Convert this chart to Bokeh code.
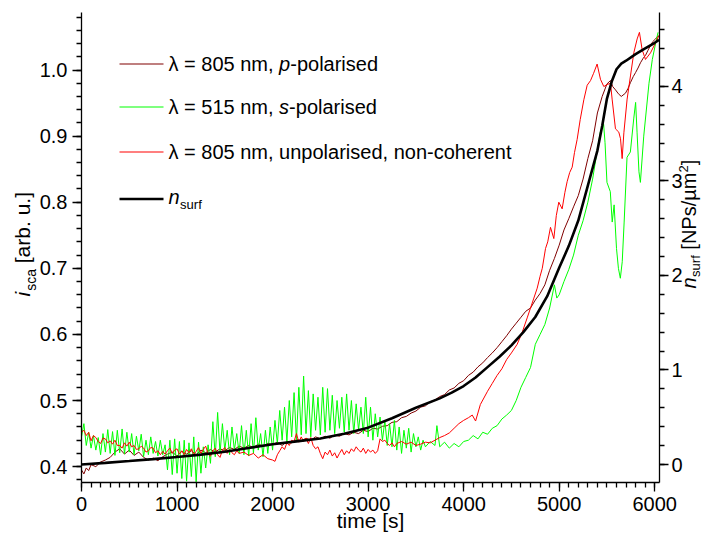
import math
from bokeh.plotting import figure
from bokeh.models import Range1d, LinearAxis, Label, Arrow, FixedTicker, NumeralTickFormatter
from bokeh.embed import file_html
from bokeh.resources import INLINE

FONT = "Liberation Sans"

# ---------------- data ----------------
# lambda = 805 nm, p-polarised (dark red), left axis
t_p = [0, 25, 50, 75, 100, 150, 200, 250, 300, 350, 400, 450, 500, 550, 600, 650, 700, 750, 800, 850,
       900, 950, 1000, 1050, 1100, 1150, 1200, 1250, 1300, 1350, 1400, 1450, 1500, 1550, 1600, 1650,
       1700, 1750, 1800, 1850, 1900, 1950, 2000, 2050, 2100, 2150, 2200, 2250, 2300, 2350, 2400, 2450,
       2500, 2550, 2600, 2650, 2700, 2750, 2800, 2850, 2900, 2950, 3000, 3050, 3100, 3150, 3200, 3250,
       3300, 3350, 3400, 3450, 3500, 3550, 3600, 3650, 3700, 3750, 3800, 3850, 3900, 3950, 4000, 4050,
       4100, 4150, 4200, 4250, 4300, 4350, 4400, 4450, 4500, 4550, 4600, 4650, 4700, 4750, 4800, 4850,
       4900, 4950, 5000, 5050, 5100, 5150, 5200, 5250, 5300, 5350, 5400, 5450, 5500, 5537, 5560, 5589,
       5620, 5650, 5694, 5720, 5746, 5775, 5799, 5825, 5851, 5880, 5903, 5930, 5956, 5980, 6008, 6040]
i_p = [0.395, 0.389, 0.398, 0.394, 0.403, 0.400, 0.407, 0.410, 0.414, 0.422, 0.427, 0.419, 0.425, 0.417,
       0.422, 0.414, 0.410, 0.413, 0.409, 0.415, 0.419, 0.422, 0.416, 0.423, 0.419, 0.424, 0.418, 0.425,
       0.421, 0.426, 0.422, 0.427, 0.424, 0.429, 0.426, 0.431, 0.428, 0.432, 0.429, 0.434, 0.431, 0.435,
       0.433, 0.437, 0.432, 0.438, 0.436, 0.441, 0.439, 0.443, 0.440, 0.445, 0.442, 0.446, 0.443, 0.448,
       0.446, 0.450, 0.448, 0.452, 0.450, 0.455, 0.453, 0.458, 0.457, 0.461, 0.462, 0.467, 0.468, 0.474,
       0.476, 0.481, 0.484, 0.490, 0.492, 0.498, 0.501, 0.506, 0.509, 0.516, 0.519, 0.526, 0.530, 0.538,
       0.543, 0.551, 0.557, 0.565, 0.572, 0.580, 0.589, 0.598, 0.608, 0.617, 0.626, 0.635, 0.640, 0.652,
       0.662, 0.675, 0.697, 0.715, 0.735, 0.758, 0.775, 0.793, 0.810, 0.835, 0.866, 0.893, 0.935, 0.960,
       0.979, 0.984, 0.975, 0.970, 0.964, 0.960, 0.965, 0.972, 0.981, 0.990, 0.996, 1.003, 1.011, 1.018,
       1.022, 1.030, 1.037, 1.043, 1.047, 1.052]

# lambda = 515 nm, s-polarised (green), left axis
t_s = [0, 25, 50, 75, 100, 125, 150, 175, 200, 225, 250, 275, 300, 325, 350, 375, 400, 425, 450, 475,
       500, 525, 550, 575, 600, 625, 650, 675, 700, 725, 750, 775, 800, 825, 850, 875, 900, 925, 950, 975,
       1000, 1025, 1050, 1075, 1100, 1125, 1150, 1175, 1200, 1225, 1250, 1275, 1300, 1325, 1350, 1375,
       1400, 1425, 1450, 1475, 1500, 1525, 1550, 1575, 1600, 1625, 1650, 1675, 1700, 1725, 1750, 1775,
       1800, 1825, 1850, 1875, 1900, 1925, 1950, 1975,
       2000, 2025, 2050, 2075, 2100, 2125, 2150, 2175, 2200, 2225, 2250, 2275, 2300, 2325, 2350, 2375,
       2400, 2425, 2450, 2475, 2500, 2525, 2550, 2575, 2600, 2625, 2650, 2675, 2700, 2725, 2750, 2775,
       2800, 2825, 2850, 2875, 2900, 2925, 2950, 2975,
       3000, 3025, 3050, 3075, 3100, 3125, 3150, 3175, 3200, 3225, 3250, 3275, 3300, 3325, 3350, 3375,
       3400, 3425, 3450, 3475, 3500, 3525, 3550, 3575, 3600,
       3650, 3700, 3720, 3750, 3800, 3850, 3900, 3950,
       4000, 4050, 4100, 4150, 4200, 4250, 4300, 4350, 4400, 4450, 4500, 4550, 4600, 4650, 4700, 4750,
       4800, 4850, 4900, 4950, 4975,
       5000, 5050, 5100, 5150, 5200, 5250, 5300, 5350, 5400, 5430, 5465, 5480, 5500, 5535, 5555, 5575,
       5600, 5620, 5640, 5660, 5680, 5710, 5745, 5780, 5800, 5815, 5835, 5850, 5885, 5940, 5975, 6010, 6035]
i_s = [0.445, 0.465, 0.432, 0.452, 0.428, 0.447, 0.425, 0.444, 0.418, 0.450, 0.422, 0.456, 0.420, 0.453,
       0.417, 0.455, 0.421, 0.457, 0.419, 0.452, 0.422, 0.450, 0.418, 0.446, 0.424, 0.449, 0.415, 0.440,
       0.418, 0.445, 0.420, 0.438, 0.416, 0.440, 0.418, 0.433, 0.395, 0.440, 0.388, 0.442,
       0.390, 0.438, 0.382, 0.440, 0.378, 0.436, 0.385, 0.445, 0.377, 0.437, 0.390, 0.430, 0.398, 0.433,
       0.405, 0.468, 0.415, 0.482, 0.420, 0.465, 0.425, 0.455, 0.418, 0.460, 0.425, 0.450, 0.420, 0.462,
       0.418, 0.455, 0.416, 0.465, 0.420, 0.474, 0.425, 0.450, 0.415, 0.455, 0.420, 0.460,
       0.425, 0.470, 0.435, 0.485, 0.440, 0.490, 0.438, 0.500, 0.445, 0.512, 0.440, 0.520, 0.448, 0.537,
       0.450, 0.515, 0.445, 0.510, 0.455, 0.505, 0.448, 0.520, 0.452, 0.518, 0.455, 0.508, 0.450, 0.500,
       0.458, 0.505, 0.452, 0.510, 0.455, 0.500, 0.450, 0.495, 0.455, 0.490, 0.450, 0.505,
       0.445, 0.490, 0.440, 0.480, 0.445, 0.475, 0.440, 0.470, 0.432, 0.465, 0.430, 0.470, 0.425, 0.460,
       0.420, 0.455, 0.428, 0.458, 0.422, 0.450, 0.430, 0.445, 0.425, 0.440, 0.430,
       0.438, 0.432, 0.462, 0.430, 0.437, 0.428, 0.435, 0.430,
       0.438, 0.440, 0.447, 0.442, 0.452, 0.449, 0.458, 0.462, 0.472, 0.478, 0.485, 0.500, 0.520, 0.535,
       0.550, 0.585, 0.600, 0.615, 0.640, 0.675, 0.655,
       0.660, 0.680, 0.698, 0.720, 0.750, 0.772, 0.800, 0.835, 0.880, 0.906, 0.918, 0.890, 0.830, 0.816,
       0.770, 0.796, 0.730, 0.700, 0.685, 0.710, 0.770, 0.868, 0.876, 0.926, 0.951, 0.906, 0.846, 0.830,
       0.900, 0.980, 1.016, 1.041, 1.057]

# lambda = 805 nm, unpolarised, non-coherent (red), left axis
t_u = [0, 25, 50, 75, 100, 125, 150, 175, 200, 225, 250, 275, 300, 325, 350, 375, 400, 425, 450, 475,
       500, 525, 550, 575, 600, 625, 650, 675, 700, 725, 750, 775, 800, 825, 850, 875, 900, 925, 950, 975,
       1000, 1025, 1050, 1075, 1100, 1125, 1150, 1175, 1200, 1225, 1250, 1275, 1300, 1325, 1350, 1375,
       1400, 1425, 1450, 1475, 1500, 1525, 1550, 1575, 1600, 1625, 1650, 1700, 1750, 1800, 1850, 1900, 1950,
       2000, 2025, 2050, 2075, 2100, 2125, 2150, 2175, 2200, 2225, 2250, 2275, 2300, 2325, 2350, 2375,
       2400, 2425, 2450, 2475, 2500, 2525, 2550, 2575, 2600, 2625, 2650, 2675, 2700, 2725, 2750, 2775,
       2800, 2825, 2850, 2875, 2900, 2925, 2950, 2975,
       3000, 3025, 3050, 3075, 3100, 3125, 3150, 3175, 3200, 3225, 3250, 3275, 3300, 3350, 3400, 3450,
       3500, 3550, 3600, 3650, 3700, 3750, 3800, 3850, 3900, 3950,
       4000, 4050, 4090, 4125, 4175, 4250, 4300, 4350, 4400, 4450, 4500, 4560, 4610, 4665, 4700, 4735,
       4770, 4800, 4823, 4857, 4880, 4909, 4944, 4970, 4996,
       5031, 5060, 5083, 5110, 5136, 5160, 5188, 5220, 5258, 5293, 5328, 5360, 5397, 5432, 5467, 5502,
       5537, 5554, 5589, 5624, 5642, 5659, 5677, 5711, 5746, 5781, 5816, 5840, 5868, 5903, 5956, 6008, 6043]
i_u = [0.452, 0.455, 0.447, 0.452, 0.439, 0.447, 0.444, 0.438, 0.435, 0.443, 0.442, 0.436, 0.439, 0.434,
       0.440, 0.432, 0.432, 0.428, 0.436, 0.431, 0.437, 0.430, 0.432, 0.426, 0.427, 0.431, 0.428, 0.422,
       0.424, 0.429, 0.428, 0.421, 0.424, 0.418, 0.423, 0.419, 0.424, 0.428, 0.420, 0.425,
       0.427, 0.419, 0.424, 0.418, 0.426, 0.421, 0.427, 0.418, 0.423, 0.429, 0.420, 0.426, 0.431, 0.419,
       0.416, 0.424, 0.428, 0.418, 0.414, 0.425, 0.429, 0.420, 0.426, 0.421, 0.418, 0.424, 0.420, 0.422,
       0.417, 0.420, 0.413, 0.418, 0.412,
       0.410, 0.408, 0.418, 0.424, 0.430, 0.426, 0.436, 0.432, 0.440, 0.438, 0.450, 0.437, 0.445, 0.438,
       0.443, 0.435, 0.444, 0.432, 0.427, 0.430, 0.420, 0.412, 0.422, 0.418, 0.425, 0.416, 0.421, 0.413,
       0.420, 0.426, 0.418, 0.424, 0.420, 0.427, 0.423, 0.430, 0.425, 0.422, 0.428, 0.420,
       0.426, 0.422, 0.425, 0.420, 0.424, 0.442, 0.438, 0.440, 0.435, 0.432, 0.436, 0.430, 0.435, 0.438,
       0.434, 0.437, 0.432, 0.434, 0.437, 0.436, 0.440, 0.444, 0.447, 0.451, 0.458, 0.465,
       0.470, 0.474, 0.478, 0.469, 0.494, 0.514, 0.526, 0.538, 0.548, 0.562, 0.572, 0.585, 0.602, 0.625,
       0.640, 0.655, 0.670, 0.688, 0.700, 0.730, 0.740, 0.762, 0.745, 0.780, 0.800,
       0.790, 0.815, 0.831, 0.845, 0.853, 0.875, 0.895, 0.925, 0.955, 0.977, 0.984, 0.995, 1.009, 0.986,
       0.975, 0.978, 0.980, 0.956, 0.911, 0.906, 0.896, 0.866, 0.905, 0.956, 0.991, 1.026, 1.047, 1.057,
       1.031, 1.016, 1.026, 1.041, 1.052]

# n_surf (black), right axis [NPs/um^2]
t_n = [0, 250, 500, 750, 1000, 1250, 1500, 1750, 2000, 2250, 2500, 2750, 3000, 3250, 3500, 3750, 3875,
       4000, 4125, 4250, 4375, 4500, 4625, 4750, 4875, 5000, 5100, 5200, 5300, 5400, 5450, 5500, 5550,
       5600, 5650, 5700, 5800, 5900, 6000, 6045]
n_surf = [0.0, 0.018, 0.037, 0.057, 0.080, 0.105, 0.135, 0.175, 0.215, 0.245, 0.275, 0.325, 0.390, 0.490,
          0.600, 0.700, 0.760, 0.830, 0.920, 1.030, 1.140, 1.260, 1.400, 1.560, 1.780, 2.080, 2.310, 2.580,
          2.950, 3.320, 3.580, 3.870, 4.050, 4.180, 4.240, 4.270, 4.340, 4.400, 4.460, 4.490]

# axis ticks
x_ticks = [0, 1000, 2000, 3000, 4000, 5000, 6000]
x_minor = [i * 100 for i in range(0, 61)]
yl_ticks = [0.4, 0.5, 0.6, 0.7, 0.8, 0.9, 1.0]
yl_minor = [round(0.38 + 0.02 * k, 2) for k in range(0, 36)]
yr_ticks = [0, 1, 2, 3, 4]
yr_minor = [round(0.2 * k, 1) for k in range(0, 24)]

legend_labels = ["λ = 805 nm, ", "p", "-polarised",
                 "λ = 515 nm, ", "s", "-polarised",
                 "λ = 805 nm, unpolarised, non-coherent",
                 "n", "surf"]

C_P, C_S, C_U, C_N = "#800000", "#00ff00", "#ff0000", "#000000"

# ---------------- geometry ----------------
W, H = 705, 533                       # figure size
PL, PR, PT, PB = 81, 659, 12, 482     # data area in figure pixels
X0, X1 = 0, 6050
YL0, YL1 = 0.376, 1.087
YR0, YR1 = -0.19, 4.78

kx = (PR - PL) / (X1 - X0)
kyl = (PB - PT) / (YL1 - YL0)
kyr = (PB - PT) / (YR1 - YR0)
x_range = Range1d(X0 - PL / kx, X1 + (W - PR) / kx)
yl_range = Range1d(YL0 - (H - PB) / kyl, YL1 + PT / kyl)
yr_range = Range1d(YR0 - (H - PB) / kyr, YR1 + PT / kyr)

p = figure(width=W, height=H, output_backend="svg", toolbar_location=None,
           x_range=x_range, y_range=yl_range,
           min_border_left=0, min_border_right=0, min_border_top=0, min_border_bottom=0,
           background_fill_color="white", border_fill_color="white")
p.outline_line_color = None
p.xgrid.visible = False
p.ygrid.visible = False
p.extra_y_ranges = {"n": yr_range}

right_axis = LinearAxis(y_range_name="n")
p.add_layout(right_axis, "right")
left_axis = p.left[0]
bottom_axis = p.below[0]

left_axis.fixed_location = X0
left_axis.bounds = (YL0, YL1)
right_axis.fixed_location = X1
right_axis.bounds = (YR0, YR1)
bottom_axis.fixed_location = YL0
bottom_axis.bounds = (X0, X1)

for ax in (left_axis, right_axis, bottom_axis):
    ax.axis_line_color = "black"
    ax.axis_line_width = 1.3
    ax.major_tick_line_color = "black"
    ax.minor_tick_line_color = "black"
    ax.major_tick_line_width = 1.3
    ax.minor_tick_line_width = 1.3
    ax.major_tick_in = 0
    ax.major_tick_out = 9
    ax.minor_tick_in = 0
    ax.minor_tick_out = 5
    ax.major_label_text_font = FONT
    ax.major_label_text_font_size = "20px"
    ax.major_label_text_color = "black"
    ax.major_label_standoff = 5
right_axis.major_label_standoff = 3

bottom_axis.ticker = FixedTicker(ticks=x_ticks, minor_ticks=x_minor)
left_axis.ticker = FixedTicker(ticks=yl_ticks, minor_ticks=yl_minor)
left_axis.formatter = NumeralTickFormatter(format="0.0")
right_axis.ticker = FixedTicker(ticks=yr_ticks, minor_ticks=yr_minor)

# ---------------- series ----------------
p.line(t_p, i_p, line_color=C_P, line_width=1.0)
p.line(t_s, i_s, line_color=C_S, line_width=1.0)
p.line(t_u, i_u, line_color=C_U, line_width=1.0)
p.line(t_n, n_surf, line_color=C_N, line_width=2.6, y_range_name="n")

# ---------------- texts ----------------
SHIFT = 0.37   # observed offset of the rendered baseline, in em


def lab(text, bx, by, size, style="normal", angle=0.0, align="left"):
    """(bx, by): wanted baseline anchor in figure pixels."""
    if angle == 0.0:
        ax_, ay_ = bx, by - SHIFT * size
    else:
        ax_, ay_ = bx - SHIFT * size, by
    p.add_layout(Label(x=ax_, y=H - ay_, x_units="screen", y_units="screen", text=text,
                       text_font=FONT, text_font_size=f"{size}px", text_font_style=style,
                       text_color="black", angle=angle, text_align=align,
                       text_baseline="alphabetic"))


def sample(iy, color, width):
    p.add_layout(Arrow(end=None, x_start=119, y_start=H - iy, x_end=163, y_end=H - iy,
                       start_units="screen", end_units="screen",
                       line_color=color, line_width=width))


# legend
rows = [63.5, 106.5, 151.5, 198.5]
TX = 168
FS = 20
sample(rows[0], C_P, 1.2)
lab(legend_labels[0], TX, rows[0] + 7.5, FS)
lab(legend_labels[1], TX + 5.531 * FS, rows[0] + 7.5, FS, "italic")
lab(legend_labels[2], TX + 5.531 * FS + 0.556 * FS, rows[0] + 7.5, FS)

sample(rows[1], C_S, 1.2)
lab(legend_labels[3], TX, rows[1] + 7.5, FS)
lab(legend_labels[4], TX + 5.531 * FS, rows[1] + 7.5, FS, "italic")
lab(legend_labels[5], TX + 5.531 * FS + 0.5 * FS, rows[1] + 7.5, FS)

sample(rows[2], C_U, 1.2)
lab(legend_labels[6], TX, rows[2] + 7.5, FS)

sample(rows[3], C_N, 2.6)
lab(legend_labels[7], TX, rows[3] + 5.5, FS, "italic")
lab(legend_labels[8], TX + 0.556 * FS + 0.5, rows[3] + 10, 13)

# x-axis title
lab("time [s]", (PL + PR) / 2, 528, 21, align="center")

# left axis title (rotated, reading upwards)
A = math.pi / 2
BXL = 30
y0 = 296
lab("i", BXL, y0, 21, "italic", A)
y1 = y0 - 0.222 * 21 - 1
lab("sca", BXL + 6, y1, 14, "normal", A)
y2 = y1 - 1.556 * 14 - 0.278 * 21
lab("[arb. u.]", BXL, y2, 21, "normal", A)

# right axis title (rotated, reading upwards), kept clear of the tick labels
RF, RS = 20, 13
BXR = 696
z0 = 288
lab("n", BXR, z0, RF, "italic", A)
z1 = z0 - 0.556 * RF - 0.5
lab("surf", BXR + 4, z1, RS, "normal", A)
z2 = z1 - 1.667 * RS - 0.278 * RF
lab("[NPs/µm", BXR, z2, RF, "normal", A)
z3 = z2 - 3.854 * RF
lab("2", BXR - 8, z3, RS, "normal", A)
z4 = z3 - 0.556 * RS
lab("]", BXR, z4, RF, "normal", A)

open("out.html", "w").write(file_html(p, INLINE))
